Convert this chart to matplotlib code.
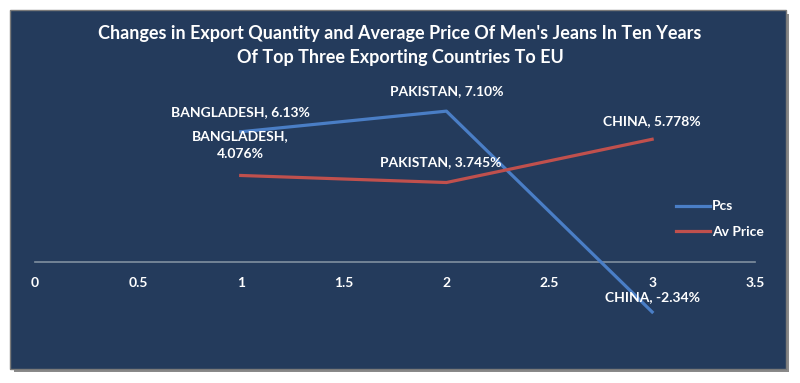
import matplotlib.pyplot as plt
from matplotlib.patches import Rectangle

# data
x_pos = [1, 2, 3]
countries = ["BANGLADESH", "PAKISTAN", "CHINA"]
pcs = [6.13, 7.10, -2.34]
av_price = [4.076, 3.745, 5.778]
pcs_text = ["6.13%", "7.10%", "-2.34%"]
price_text = ["4.076%", "3.745%", "5.778%"]
xticks = [0, 0.5, 1, 1.5, 2, 2.5, 3, 3.5]

bg = "#243B5C"
blue = "#4A7EC6"
red = "#C0504D"

plt.rcParams['font.family'] = ['Lato', 'DejaVu Sans']

fig = plt.figure(figsize=(8, 3.83), dpi=100)
fig.patch.set_facecolor("white")

# shadow + panel frame
W, H = 800, 383
fig.patches.append(Rectangle((14 / W, 1 - 372 / H), 775 / W, 358 / H,
                             transform=fig.transFigure, facecolor="#8a8a8a",
                             edgecolor="none", zorder=0))
fig.patches.append(Rectangle((10 / W, 1 - 369 / H), 776 / W, 359 / H,
                             transform=fig.transFigure, facecolor=bg,
                             edgecolor="#7a7a7a", linewidth=1, zorder=1))

ax = fig.add_axes([35 / W, 1 - 326 / H, 720 / W, 234 / H])
ax.set_facecolor("none")
ax.set_zorder(2)

ax.plot(x_pos, pcs, color=blue, linewidth=2.3, label="Pcs")
ax.plot(x_pos, av_price, color=red, linewidth=2.3, label="Av Price")

ax.set_xlim(0, 3.5)
ax.set_ylim(-3, 8)
for s in ax.spines.values():
    s.set_visible(False)
ax.spines["bottom"].set_visible(True)
ax.spines["bottom"].set_position(("data", 0))
ax.spines["bottom"].set_color("#8090A0")
ax.spines["bottom"].set_linewidth(1.2)
ax.spines["bottom"].set_zorder(0)
ax.set_yticks([])
ax.set_xticks(xticks)
ax.set_xticklabels([f"{t:g}" for t in xticks])
ax.tick_params(axis="x", length=0, colors="white", labelsize=10, pad=11)
for lbl in ax.get_xticklabels():
    lbl.set_fontweight("bold")

lab = dict(color="white", fontsize=10, fontweight="bold", ha="center", va="center",
           textcoords="offset pixels")
# Pcs labels
pcs_off = [(0, 20), (0, 20), (0, 15)]
for i in range(3):
    ax.annotate(f"{countries[i]}, {pcs_text[i]}", (x_pos[i], pcs[i]),
                xytext=pcs_off[i], **lab)
# Av price labels
ax.annotate(f"{countries[0]},\n{price_text[0]}", (x_pos[0], av_price[0]),
            xytext=(0, 30), linespacing=1.6, **lab)
ax.annotate(f"{countries[1]}, {price_text[1]}", (x_pos[1], av_price[1]),
            xytext=(-6, 20), **lab)
ax.annotate(f"{countries[2]}, {price_text[2]}", (x_pos[2], av_price[2]),
            xytext=(0, 18), **lab)

leg = fig.legend(loc="upper left", bbox_to_anchor=(663 / W, 1 - 188 / H),
                 frameon=False, labelcolor="white", handlelength=2.5,
                 handletextpad=0.15, labelspacing=0.95,
                 prop={"family": "Lato", "weight": "bold", "size": 10})

fig.text(400 / W, 1 - 34 / H, "Changes in Export Quantity and Average Price Of Men's Jeans In Ten Years",
         ha="center", va="center", color="white", fontsize=13, fontweight="bold")
fig.text(400 / W, 1 - 57 / H, "Of Top Three Exporting Countries To EU",
         ha="center", va="center", color="white", fontsize=13, fontweight="bold")

fig.savefig("out.png", dpi=100, facecolor=fig.get_facecolor())
